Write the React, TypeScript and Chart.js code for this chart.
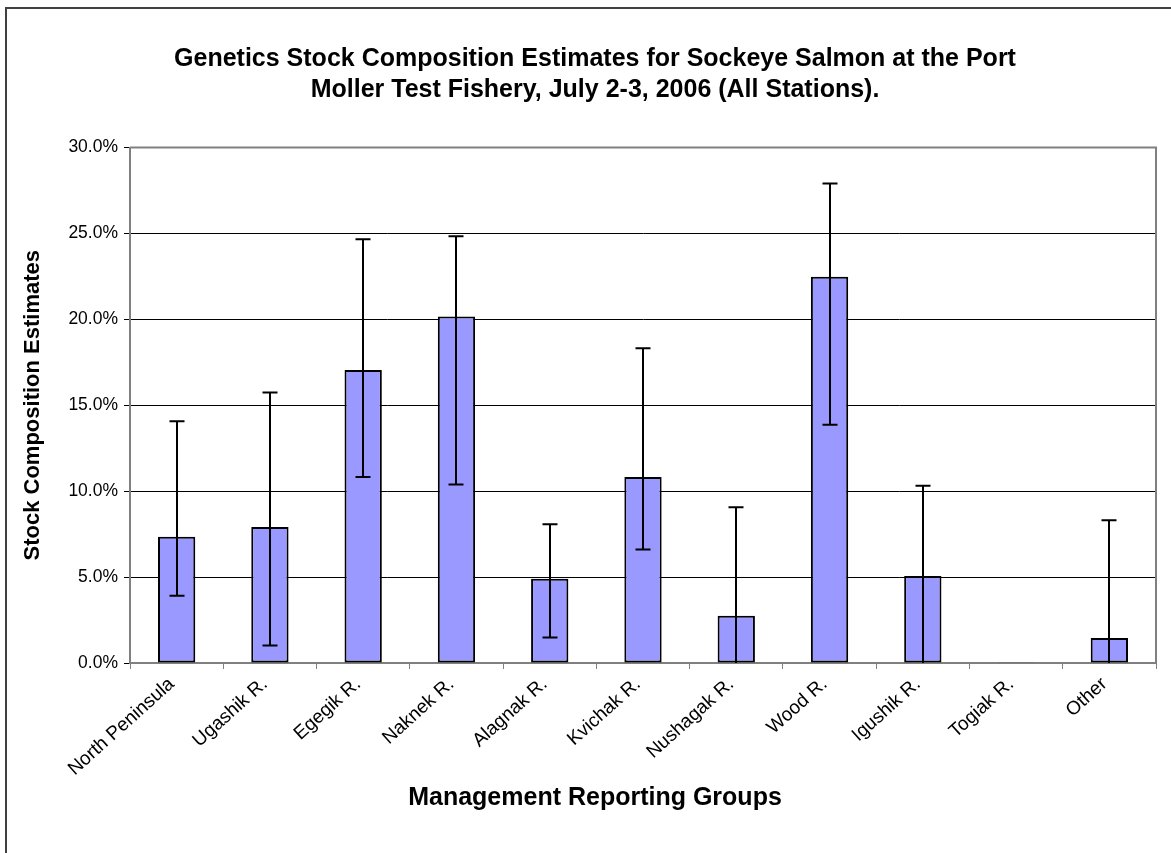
import React, { useEffect, useRef } from "react";
import { Chart, registerables } from "chart.js";

Chart.register(...registerables);

const categories = [
  "North Peninsula",
  "Ugashik R.",
  "Egegik R.",
  "Naknek R.",
  "Alagnak R.",
  "Kvichak R.",
  "Nushagak R.",
  "Wood R.",
  "Igushik R.",
  "Togiak R.",
  "Other",
];

const estimates = [7.35, 7.92, 17.05, 20.16, 4.91, 10.83, 2.75, 22.48, 5.07, 0.05, 1.45];
const upperCI = [14.07, 15.74, 24.66, 24.83, 8.07, 18.31, 9.06, 27.9, 10.31, 0.05, 8.31];
const lowerCI = [3.91, 1.02, 10.83, 10.39, 1.49, 6.6, 0, 13.87, 0, 0.05, 0];

const yTicks = [0, 5, 10, 15, 20, 25, 30];

const titleLines = [
  "Genetics Stock Composition Estimates for Sockeye Salmon at the Port",
  "Moller Test Fishery, July 2-3, 2006 (All Stations).",
];
const xAxisTitle = "Management Reporting Groups";
const yAxisTitle = "Stock Composition Estimates";

const FONT = "'Liberation Sans', Arial, Helvetica, sans-serif";

const plotFramePlugin = {
  id: "plotFrame",
  beforeDatasetsDraw(chart: any) {
    const { ctx, chartArea } = chart;
    ctx.save();
    ctx.strokeStyle = "#808080";
    ctx.lineWidth = 2;
    ctx.beginPath();
    ctx.moveTo(chartArea.left, chartArea.top);
    ctx.lineTo(chartArea.right, chartArea.top);
    ctx.lineTo(chartArea.right, chartArea.bottom);
    ctx.stroke();
    ctx.restore();
  },
};

const errorBarPlugin = {
  id: "errorBars",
  afterDatasetsDraw(chart: any) {
    const { ctx } = chart;
    const meta = chart.getDatasetMeta(0);
    const yScale = chart.scales.y;
    ctx.save();
    ctx.strokeStyle = "#000000";
    ctx.lineWidth = 2;
    meta.data.forEach((bar: any, i: number) => {
      const hi = upperCI[i];
      const lo = lowerCI[i];
      if (hi - lo < 0.01) return;
      const x = Math.round(bar.x);
      const yHi = yScale.getPixelForValue(hi);
      const yLo = yScale.getPixelForValue(lo);
      const cap = 7.5;
      ctx.beginPath();
      ctx.moveTo(x, yHi);
      ctx.lineTo(x, yLo);
      ctx.moveTo(x - cap, yHi);
      ctx.lineTo(x + cap, yHi);
      if (lo > 0) {
        ctx.moveTo(x - cap, yLo);
        ctx.lineTo(x + cap, yLo);
      }
      ctx.stroke();
    });
    ctx.restore();
  },
};

export default function App() {
  const canvasRef = useRef<HTMLCanvasElement | null>(null);

  useEffect(() => {
    if (!canvasRef.current) return;
    const chart = new Chart(canvasRef.current, {
      type: "bar",
      data: {
        labels: categories,
        datasets: [
          {
            label: yAxisTitle,
            data: estimates,
            backgroundColor: "#9999FF",
            borderColor: "#000000",
            borderWidth: 2,
            borderSkipped: false,
            categoryPercentage: 1.0,
            barPercentage: 0.4,
          },
        ],
      },
      options: {
        animation: false,
        responsive: true,
        maintainAspectRatio: false,
        layout: { padding: { left: 34, right: 15, top: 0, bottom: 0 } },
        plugins: {
          legend: { display: false },
          tooltip: { enabled: false },
          title: {
            display: true,
            text: titleLines,
            color: "#000000",
            font: { family: FONT, size: 25, weight: "bold", lineHeight: 1.24 },
            padding: { top: 43.5, bottom: 42 },
          },
          subtitle: {
            display: true,
            position: "bottom",
            text: xAxisTitle,
            color: "#000000",
            font: { family: FONT, size: 25, weight: "bold", lineHeight: 1.2 },
            padding: { top: 0, bottom: 40 },
          },
        },
        scales: {
          x: {
            grid: {
              display: true,
              offset: true,
              drawOnChartArea: false,
              drawTicks: true,
              tickLength: 6,
              color: "#808080",
              lineWidth: 1,
            },
            border: { display: true, color: "#808080", width: 2 },
            ticks: {
              autoSkip: false,
              minRotation: 42,
              maxRotation: 42,
              labelOffset: -5,
              color: "#000000",
              padding: 4,
              font: { family: FONT, size: 19 },
            },
            afterFit(scale: any) {
              scale.height = 120;
            },
          },
          y: {
            min: 0,
            max: 30,
            afterBuildTicks(scale: any) {
              scale.ticks = yTicks.map((v) => ({ value: v }));
            },
            grid: {
              color: "#000000",
              lineWidth: 1,
              drawTicks: true,
              tickLength: 6,
              tickColor: "#000000",
            },
            border: { display: true, color: "#808080", width: 2 },
            ticks: {
              color: "#000000",
              padding: 6,
              font: { family: FONT, size: 17.5 },
              callback: (v: any) => Number(v).toFixed(1) + "%",
            },
            title: {
              display: true,
              text: yAxisTitle,
              color: "#000000",
              font: { family: FONT, size: 22, weight: "bold", lineHeight: 1.2 },
              padding: { top: -14.2, bottom: 0 },
            },
            afterFit(scale: any) {
              scale.width = 96;
            },
          },
        },
      },
      plugins: [plotFramePlugin, errorBarPlugin],
    });
    return () => chart.destroy();
  }, []);

  return (
    <div
      style={{
        position: "absolute",
        left: 0,
        top: 0,
        width: 1171,
        height: 853,
        overflow: "hidden",
        background: "#ffffff",
      }}
    >
      <canvas ref={canvasRef} />
      <div
        style={{
          position: "absolute",
          left: 5,
          top: 7,
          width: 3000,
          height: 3000,
          borderLeft: "2px solid #404040",
          borderTop: "2px solid #404040",
          pointerEvents: "none",
        }}
      />
    </div>
  );
}
